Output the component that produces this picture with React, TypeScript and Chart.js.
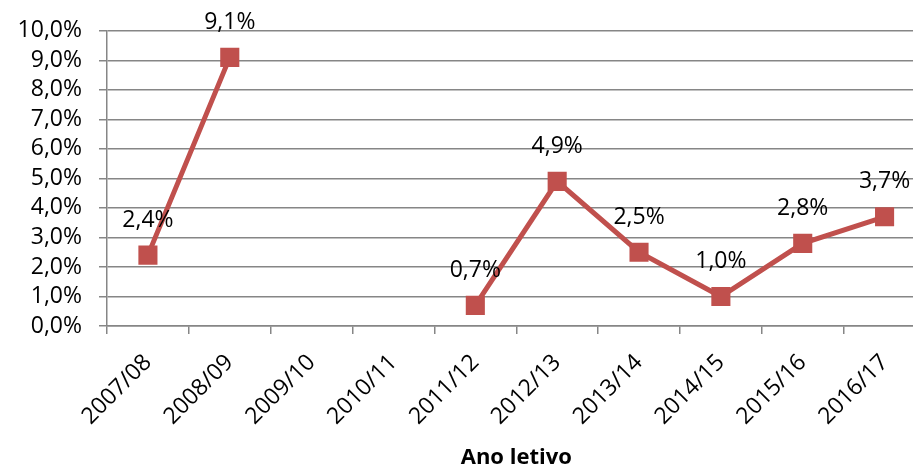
import React, { useEffect, useRef } from "react";
import { Chart, registerables } from "chart.js";

Chart.register(...registerables);

const categories = ["2007/08", "2008/09", "2009/10", "2010/11", "2011/12", "2012/13", "2013/14", "2014/15", "2015/16", "2016/17"];
const values: (number | null)[] = [2.4, 9.1, null, null, 0.7, 4.9, 2.5, 1.0, 2.8, 3.7];
const xTitle = "Ano letivo";

const fmt = (v: number) => v.toFixed(1).replace(".", ",") + "%";

const FONT = "'Open Sans', sans-serif";
const GRID = "#868686";
const RED = "#C0504D";

const labelPlugin = {
  id: "pointLabels",
  afterDatasetsDraw(chart: any) {
    const ctx = chart.ctx;
    const meta = chart.getDatasetMeta(0);
    ctx.save();
    ctx.font = `23px ${FONT}`;
    ctx.fillStyle = "#000";
    ctx.textAlign = "center";
    ctx.textBaseline = "middle";
    meta.data.forEach((pt: any, i: number) => {
      const v = values[i];
      if (v === null || v === undefined) return;
      ctx.fillText(fmt(v), pt.x, pt.y - 35);
    });
    // axis title
    const area = chart.chartArea;
    ctx.font = `bold 22px ${FONT}`;
    ctx.textBaseline = "alphabetic";
    ctx.fillText(xTitle, (area.left + area.right) / 2, chart.height - 3);
    ctx.restore();
  },
};

export default function App() {
  const ref = useRef<HTMLCanvasElement | null>(null);
  useEffect(() => {
    if (!ref.current) return;
    const chart = new Chart(ref.current, {
      type: "line",
      data: {
        labels: categories,
        datasets: [
          {
            data: values,
            borderColor: RED,
            backgroundColor: RED,
            borderWidth: 5,
            pointStyle: "rect",
            pointRadius: 13.5,
            pointBorderWidth: 0,
            pointBackgroundColor: RED,
            spanGaps: false,
            tension: 0,
          },
        ],
      },
      options: {
        animation: false,
        responsive: false,
        maintainAspectRatio: false,
        layout: { padding: { left: 0, right: 10, top: 27, bottom: 0 } },
        plugins: { legend: { display: false }, tooltip: { enabled: false } },
        scales: {
          x: {
            offset: true,
            grid: { display: true, drawOnChartArea: false, drawTicks: true, tickLength: 8, color: GRID, lineWidth: 1.5, offset: true },
            border: { display: true, color: GRID, width: 1.5 },
            ticks: { font: { family: FONT, size: 23 }, color: "#000", minRotation: 45, maxRotation: 45, padding: 15, autoSkip: false },
            title: { display: false },
            afterFit: (s: any) => { s.height = 141; },
          },
          y: {
            min: 0,
            max: 10,
            grid: { color: GRID, lineWidth: 1.5, tickLength: 8 },
            border: { display: true, color: GRID, width: 1.5 },
            ticks: { stepSize: 1, autoSkip: false, font: { family: FONT, size: 23 }, color: "#000", padding: 17, callback: (v: any) => fmt(Number(v)) },
            afterFit: (s: any) => { s.width = 107; },
          },
        },
      },
      plugins: [labelPlugin],
    });
    return () => chart.destroy();
  }, []);
  return (
    <div style={{ position: "fixed", left: 0, top: 0, width: 913, height: 467, overflow: "hidden", background: "#fff" }}>
      <canvas ref={ref} width={939} height={467} style={{ display: "block", width: 939, height: 467 }} />
    </div>
  );
}
